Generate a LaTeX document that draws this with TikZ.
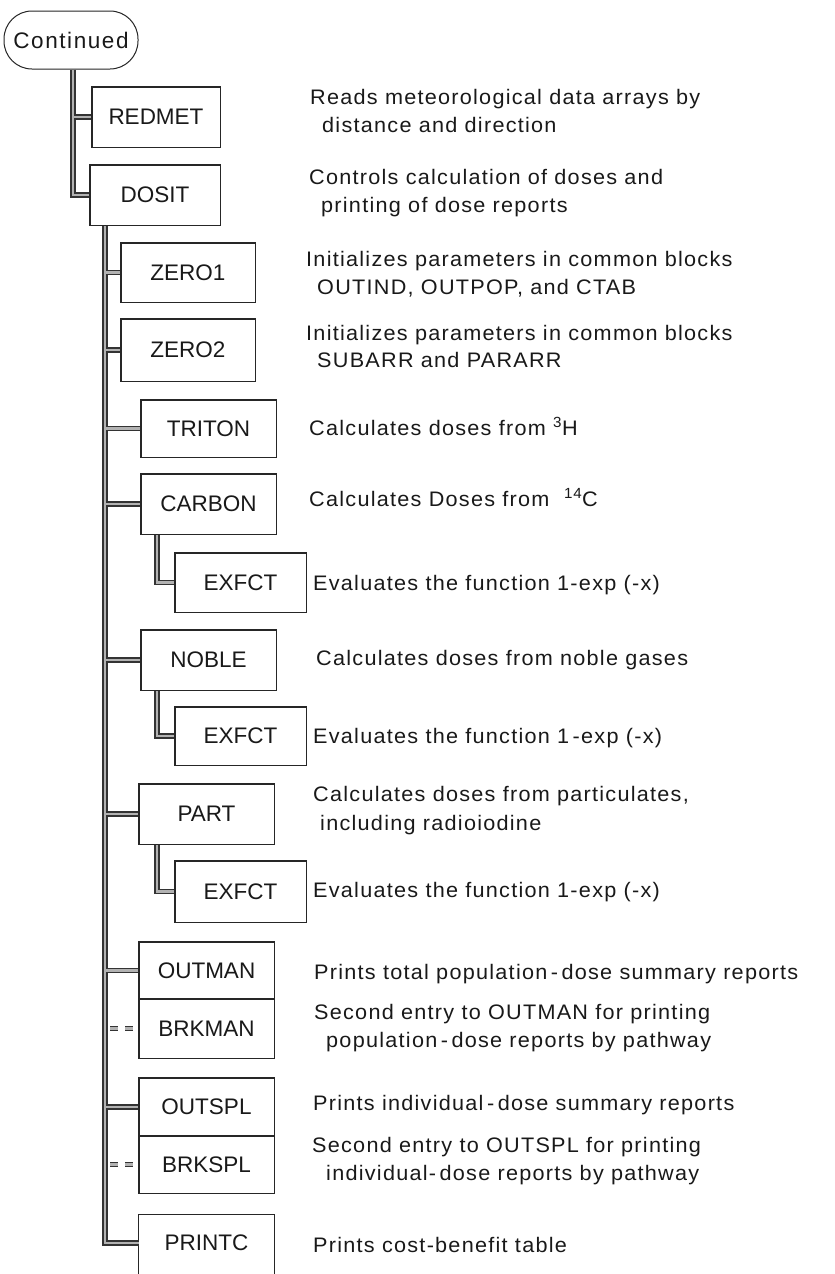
\documentclass[tikz,border=0pt]{standalone}
\usepackage{fontspec}
\setmainfont{Liberation Sans}
\newfontfamily\lblfont{Liberation Sans}
\newfontfamily\ovalfont[LetterSpace=7]{Liberation Sans}
\newfontfamily\descfont[LetterSpace=6,FakeStretch=1.03]{Liberation Sans}
\usetikzlibrary{calc}

% connector network, drawn twice (dark outer pass, light inner pass)
\newcommand\wiring[1]{%
  \draw[#1] (Continued.south -| t1) |- (DOSIT.west);
  \draw[#1] (t1 |- REDMET.west) -- (REDMET.west);
  \draw[#1] (DOSIT.south -| t2) |- (PRINTC.west);
  \foreach \n in {ZERO1,ZERO2,TRITON,CARBON,NOBLE,PART,OUTMAN,OUTSPL}
    \draw[#1] (t2 |- \n.west) -- (\n.west);
  \draw[#1] (CARBON.south -| s) |- (EXFCTa.west);
  \draw[#1] (NOBLE.south -| s) |- (EXFCTb.west);
  \draw[#1] (PART.south -| s) |- (EXFCTc.west);
  \draw[#1, dash pattern=on 8pt off 7pt] ([xshift=5pt]bm) -- (BRKMAN.west);
  \draw[#1, dash pattern=on 8pt off 7pt] ([xshift=5pt]bs) -- (BRKSPL.west);
}

\begin{document}
\begin{tikzpicture}[x=1pt,y=-1pt,
  unit/.style={draw=black!85, line width=1pt, minimum width=135pt,
    minimum height=59pt, inner sep=0pt, text=black!90,
    font=\lblfont\fontsize{22.5}{26}\selectfont},
  desc/.style={anchor=base west, inner sep=0pt, text=black!90,
    font=\descfont\fontsize{21}{25}\selectfont},
  wireout/.style={line width=5.4pt, draw=black!80, line join=miter},
  wirein/.style={line width=2.6pt, draw=black!30, line join=miter},
]
\useasboundingbox (0,0) rectangle (835,1274);
\clip (0,0) rectangle (835,1274);
\fill[white] (0,0) rectangle (835,1274);

% trunk columns
\coordinate (t1) at (73,0);
\coordinate (t2) at (105,0);
\coordinate (s) at (157,0);

% boxes
\node[unit, minimum width=134pt, minimum height=58pt, rounded corners=28pt,
  font=\ovalfont\fontsize{22.5}{26}\selectfont] (Continued) at (71,40) {Continued};
\node[unit, minimum width=128pt, minimum height=60pt] (REDMET) at (156,117) {REDMET};
\node[unit, minimum width=130pt, minimum height=60pt] (DOSIT) at (155,195) {DOSIT};
\node[unit, minimum width=134pt] (ZERO1) at (188,272.5) {ZERO1};
\node[unit, minimum width=134pt, minimum height=62pt] (ZERO2) at (188,350) {ZERO2};
\node[unit, minimum height=57pt] (TRITON) at (208.5,428.5) {TRITON};
\node[unit, minimum height=60pt] (CARBON) at (208.5,504) {CARBON};
\node[unit, minimum width=131pt] (EXFCTa) at (240.5,582.5) {EXFCT};
\node[unit, minimum height=60pt] (NOBLE) at (208.5,660) {NOBLE};
\node[unit, minimum width=131pt, minimum height=58pt] (EXFCTb) at (240.5,736) {EXFCT};
\node[unit, minimum height=60pt] (PART) at (206.5,814) {PART};
\node[unit, minimum width=131pt, minimum height=61pt] (EXFCTc) at (240.5,891.5) {EXFCT};
\node[unit, minimum height=57pt] (OUTMAN) at (206.5,970.5) {OUTMAN};
\node[unit, minimum height=59pt] (BRKMAN) at (206.5,1028.5) {BRKMAN};
\node[unit, minimum height=58pt] (OUTSPL) at (206.5,1107) {OUTSPL};
\node[unit, minimum height=57pt] (BRKSPL) at (206.5,1164.5) {BRKSPL};
\node[unit, draw=none, minimum height=56pt] (PRINTC) at (206.5,1243) {PRINTC};
\draw[draw=black!85, line width=1pt] ([yshift=-12pt]PRINTC.south west) -- (PRINTC.north west)
  -- (PRINTC.north east) -- ([yshift=-12pt]PRINTC.south east);

\coordinate (bm) at (t2 |- BRKMAN.west);
\coordinate (bs) at (t2 |- BRKSPL.west);

% connectors
\wiring{wireout}
\wiring{wirein}

% redraw box outlines over connector ends
\foreach \n in {REDMET,DOSIT,ZERO1,ZERO2,TRITON,CARBON,EXFCTa,NOBLE,EXFCTb,PART,EXFCTc,OUTMAN,BRKMAN,OUTSPL,BRKSPL}
  \draw[draw=black!85, line width=1pt] (\n.south west) rectangle (\n.north east);

% descriptions
\node[desc] (d1a) at (310,104) {Reads meteorological data arrays by};
\node[desc] (d1b) at (322,132) {distance and direction};
\node[desc] (d2a) at (309,184) {Controls calculation of doses and};
\node[desc] (d2b) at (321,212) {printing of dose reports};
\node[desc] (d3a) at (306,266) {Initializes parameters in common blocks};
\node[desc] (d3b) at (317,294) {OUTIND, OUTPOP, and CTAB};
\node[desc] (d4a) at (306,340) {Initializes parameters in common blocks};
\node[desc] (d4b) at (317,367) {SUBARR and PARARR};
\node[desc] (d5) at (309,435) {Calculates doses from \textsuperscript{3}H};
\node[desc] (d6) at (309,506) {Calculates Doses from \ \textsuperscript{14}C};
\node[desc] (d7) at (313,590) {Evaluates the function 1-exp (-x)};
\node[desc] (d8) at (316,665) {Calculates doses from noble gases};
\node[desc] (d9) at (313,743) {Evaluates the function 1\,-exp (-x)};
\node[desc] (d10a) at (313,801) {Calculates doses from particulates,};
\node[desc] (d10b) at (320,830) {including radioiodine};
\node[desc] (d11) at (313,897) {Evaluates the function 1-exp (-x)};
\node[desc] (d12) at (314,979) {Prints total population\,-\,dose summary reports};
\node[desc] (d13a) at (314,1019) {Second entry to OUTMAN for printing};
\node[desc] (d13b) at (326,1047) {population\,-\,dose reports by pathway};
\node[desc] (d14) at (313,1110) {Prints individual\,-\,dose summary reports};
\node[desc] (d15a) at (312,1152) {Second entry to OUTSPL for printing};
\node[desc] (d15b) at (326,1180) {individual-\,dose reports by pathway};
\node[desc] (d16) at (313,1252) {Prints cost-benefit table};
\end{tikzpicture}
\end{document}
